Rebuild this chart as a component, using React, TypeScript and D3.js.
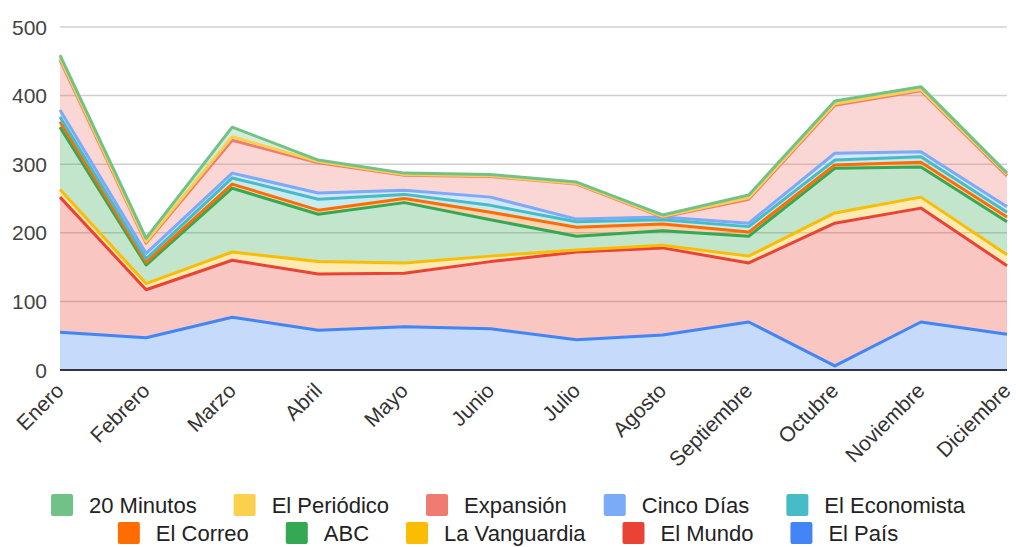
import * as d3 from "d3";
import React from "react";

const WIDTH = 1016;
const HEIGHT = 547;
const MARGIN = { top: 27, right: 9, bottom: 177, left: 60 };

const months = [
    "Enero", "Febrero", "Marzo", "Abril", "Mayo", "Junio",
    "Julio", "Agosto", "Septiembre", "Octubre", "Noviembre", "Diciembre",
];

// values per newspaper, stacked bottom to top
const elPais = [55, 47, 77, 58, 63, 60, 44, 51, 70, 6, 70, 52];
const elMundo = [197, 70, 83, 82, 78, 98, 128, 127, 86, 208, 166, 100];
const laVanguardia = [11, 9, 12, 18, 15, 8, 3, 4, 10, 15, 16, 16];
const abc = [91, 27, 93, 69, 88, 53, 20, 21, 29, 65, 44, 48];
const elCorreo = [8, 4, 6, 6, 6, 11, 13, 10, 6, 5, 7, 7];
const elEconomista = [7, 5, 9, 16, 6, 10, 8, 6, 8, 7, 8, 7];
const cincoDias = [10, 8, 7, 9, 6, 12, 4, 4, 5, 10, 7, 8];
const expansion = [73, 15, 48, 44, 22, 30, 51, 0, 35, 70, 89, 45];
const elPeriodico = [3, 2, 5, 2, 1, 1, 1, 1, 2, 2, 2, 2];
const veinteMinutos = [4, 5, 14, 2, 2, 2, 2, 2, 4, 4, 4, 2];

const yTicks = [0, 100, 200, 300, 400, 500];

const series = [
    { key: "El País", values: elPais, color: "#4285F4" },
    { key: "El Mundo", values: elMundo, color: "#EA4335" },
    { key: "La Vanguardia", values: laVanguardia, color: "#FBBC04" },
    { key: "ABC", values: abc, color: "#34A853" },
    { key: "El Correo", values: elCorreo, color: "#FF6D01" },
    { key: "El Economista", values: elEconomista, color: "#46BDC6" },
    { key: "Cinco Días", values: cincoDias, color: "#7BAAF7" },
    { key: "Expansión", values: expansion, color: "#F07B72" },
    { key: "El Periódico", values: elPeriodico, color: "#FCD04F" },
    { key: "20 Minutos", values: veinteMinutos, color: "#71C287" },
];

const legendRows = [
    ["20 Minutos", "El Periódico", "Expansión", "Cinco Días", "El Economista"],
    ["El Correo", "ABC", "La Vanguardia", "El Mundo", "El País"],
];

const FONT = "'Liberation Sans', Arial, sans-serif";
const LEGEND_FONT_SIZE = 22;

const measureText = (text: string, size: number) => {
    const ctx = document.createElement("canvas").getContext("2d");
    if (!ctx) return text.length * size * 0.5;
    ctx.font = `${size}px ${FONT}`;
    return ctx.measureText(text).width;
};

const App: React.FC = () => {
    const boundsWidth = WIDTH - MARGIN.left - MARGIN.right;
    const boundsHeight = HEIGHT - MARGIN.top - MARGIN.bottom;

    const table = months.map((m, i) => {
        const row: { [k: string]: number | string } = { month: m };
        series.forEach((s) => (row[s.key] = s.values[i]));
        return row;
    });

    const stacked = d3
        .stack<any>()
        .keys(series.map((s) => s.key))(table);

    const xScale = d3
        .scalePoint<string>()
        .domain(months)
        .range([0, boundsWidth]);
    const yScale = d3
        .scaleLinear()
        .domain([0, 500])
        .range([boundsHeight, 0]);

    const areaBuilder = d3
        .area<any>()
        .x((d) => xScale(d.data.month) as number)
        .y0((d) => yScale(d[0]))
        .y1((d) => yScale(d[1]));
    const lineBuilder = d3
        .line<any>()
        .x((d) => xScale(d.data.month) as number)
        .y((d) => yScale(d[1]));

    const colorOf = (key: string) =>
        series.find((s) => s.key === key)?.color || "#000";

    // legend layout, each row centered
    const SW = 22;
    const SW_GAP = 16;
    const ITEM_GAP = 37;
    const legendCenter = WIDTH / 2;
    const legendY = [505, 533];

    return (
        <svg
            width={WIDTH}
            height={HEIGHT}
            style={{ position: "absolute", left: 0, top: 0, fontFamily: FONT }}
        >
            <rect width={WIDTH} height={HEIGHT} fill="#fff" />
            <g transform={`translate(${MARGIN.left},${MARGIN.top})`}>
                {yTicks.map((t) => (
                    <g key={t}>
                        {t > 0 && (
                            <line
                                x1={0}
                                x2={boundsWidth}
                                y1={yScale(t)}
                                y2={yScale(t)}
                                stroke="#d0d0d0"
                                strokeWidth={1.5}
                            />
                        )}
                        <text
                            x={-13}
                            y={yScale(t)}
                            dy="0.36em"
                            textAnchor="end"
                            fontSize={21}
                            fill="#444"
                        >
                            {t}
                        </text>
                    </g>
                ))}
                {stacked.map((layer) => (
                    <path
                        key={layer.key}
                        d={areaBuilder(layer) || ""}
                        fill={colorOf(layer.key)}
                        fillOpacity={0.3}
                        stroke="none"
                    />
                ))}
                {stacked.map((layer) => (
                    <path
                        key={layer.key}
                        d={lineBuilder(layer) || ""}
                        fill="none"
                        stroke={colorOf(layer.key)}
                        strokeWidth={3}
                        strokeLinejoin="round"
                    />
                ))}
                <line
                    x1={0}
                    x2={boundsWidth}
                    y1={boundsHeight}
                    y2={boundsHeight}
                    stroke="#334"
                    strokeWidth={2}
                />
                {months.map((m) => (
                    <text
                        key={m}
                        transform={`translate(${(xScale(m) as number) + 5},${
                            boundsHeight + 22
                        }) rotate(-45)`}
                        textAnchor="end"
                        fontSize={21}
                        fill="#333"
                    >
                        {m}
                    </text>
                ))}
            </g>
            {legendRows.map((row, ri) => {
                const widths = row.map((k) => measureText(k, LEGEND_FONT_SIZE));
                const total =
                    widths.reduce((a, w) => a + SW + SW_GAP + w, 0) +
                    ITEM_GAP * (row.length - 1);
                let x = legendCenter - total / 2;
                return (
                    <g key={ri}>
                        {row.map((k, i) => {
                            const x0 = x;
                            x += SW + SW_GAP + widths[i] + ITEM_GAP;
                            return (
                                <g key={k}>
                                    <rect
                                        x={x0}
                                        y={legendY[ri] - 11}
                                        width={SW}
                                        height={22}
                                        rx={2}
                                        fill={colorOf(k)}
                                    />
                                    <text
                                        x={x0 + SW + SW_GAP}
                                        y={legendY[ri]}
                                        dy="0.36em"
                                        fontSize={LEGEND_FONT_SIZE}
                                        fill="#222"
                                    >
                                        {k}
                                    </text>
                                </g>
                            );
                        })}
                    </g>
                );
            })}
        </svg>
    );
};

export default App;
